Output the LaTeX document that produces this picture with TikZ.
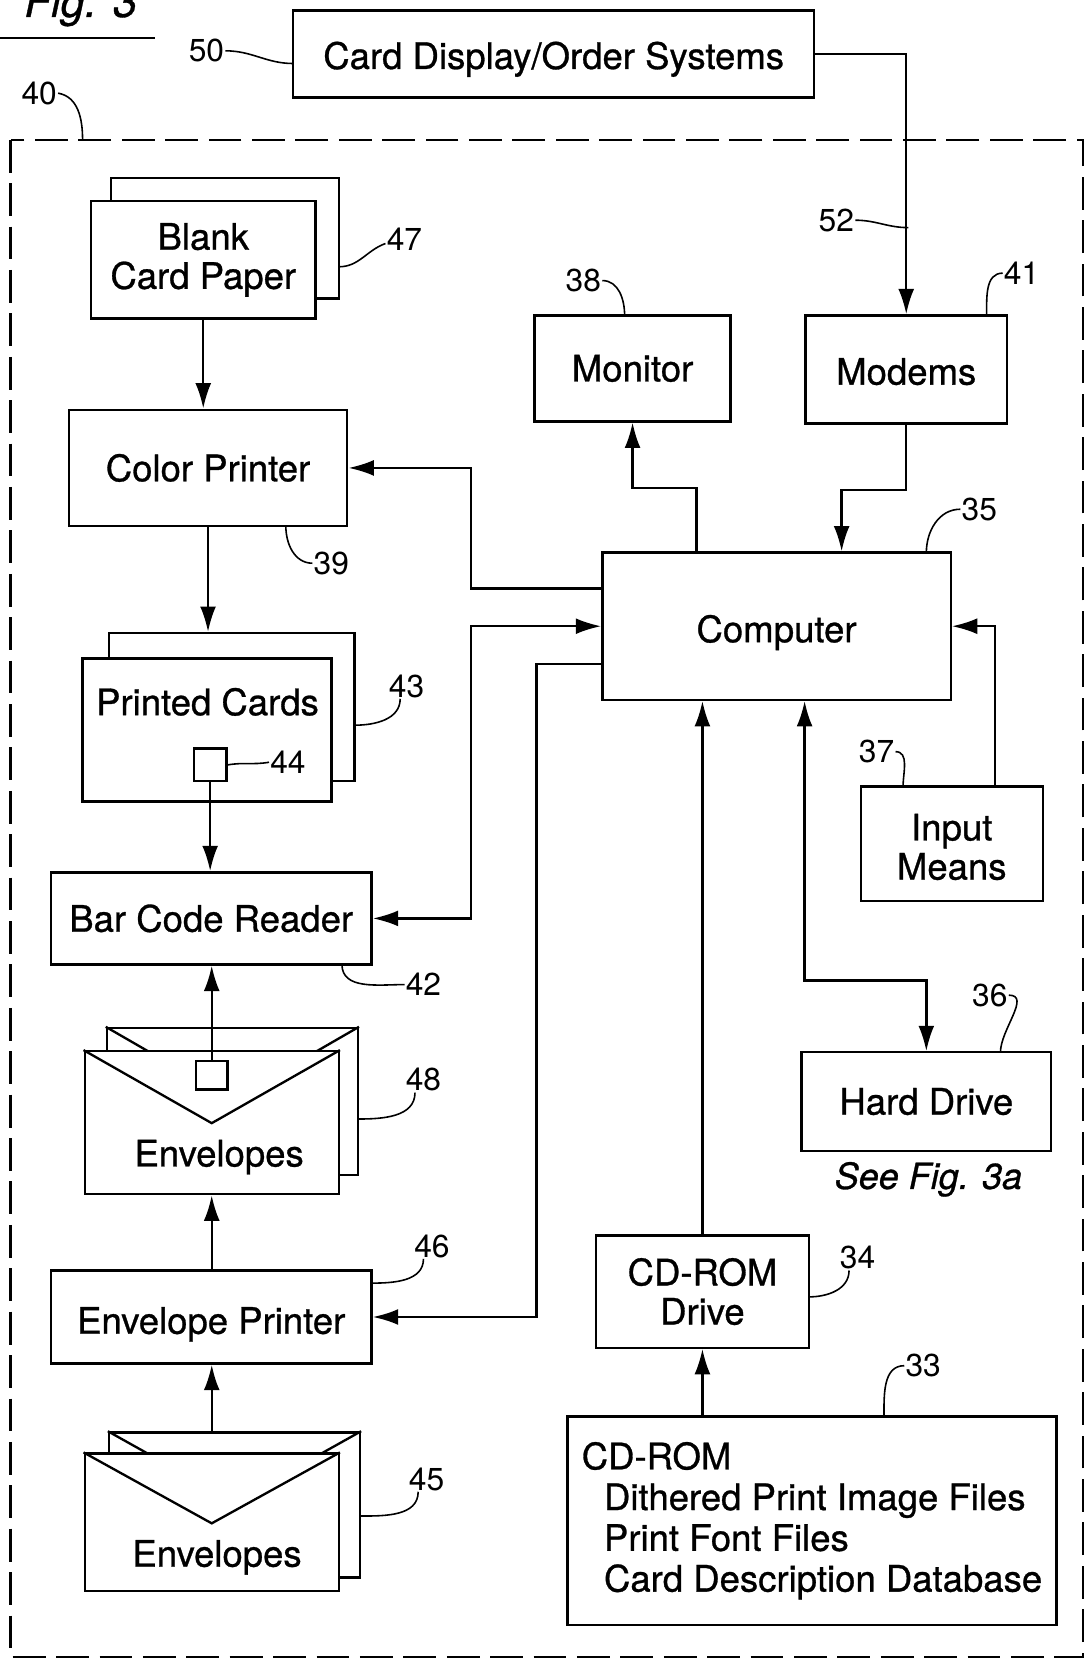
\documentclass[tikz,border=0pt]{standalone}
\usepackage{fontspec}
\setmainfont{TeX Gyre Heros}[FakeBold=0.8]
\newfontfamily\numfont{TeX Gyre Heros}
\usetikzlibrary{arrows.meta}
\newcommand\mainfs{\fontsize{34.5}{37}\selectfont}
\newcommand\numfs{\numfont\fontsize{30}{32}\selectfont}
\newcommand\itfs{\fontsize{34}{36}\selectfont\itshape}
\newcommand\lowr[2]{\raisebox{-#1pt}[\height][\depth]{#2}}
\newcommand\bx[6]{\node[box,minimum width={(#4)-(#2)},minimum height={(#5)-(#3)}] (#1) at ({((#2)+(#4))/2},{((#3)+(#5))/2}) {#6};}
\begin{document}
\begin{tikzpicture}[x=1pt,y=-1pt,
  box/.style={draw,line width=2.2pt,fill=white,inner sep=0pt,align=center,font=\mainfs},
  arr/.style={line width=2.2pt,-{Latex[length=24pt,width=15pt]}},
  arrtwo/.style={line width=2.2pt,{Latex[length=24pt,width=15pt]}-{Latex[length=24pt,width=15pt]}},
  vline/.style={line width=2.2pt},
  lead/.style={line width=1.5pt},
  num/.style={font=\numfs,inner sep=1pt},
  txt/.style={font=\mainfs,inner sep=0pt}]
\useasboundingbox[fill=white] (0,0) rectangle (1025,1568);

% outer dashed frame (40)
\draw[line width=2.2pt,dash pattern=on 31pt off 10pt] (10,132) rectangle (1023,1565);
\coordinate (f40) at (78,132);

% title
\node[font=\fontsize{41}{43}\selectfont\itshape,anchor=base west,inner sep=0pt] (fig) at (23,16) {Fig. 3};
\draw[vline] (0,36) -- (146,36);

% Card display
\bx{cds}{277}{10}{769}{92}{\lowr{5}{Card Display/Order Systems}}

% Blank card paper stack
\bx{bcpb}{105}{168}{320}{282}{}
\bx{bcp}{86}{190}{298}{301}{Blank\\Card Paper}

\bx{colp}{65}{387}{328}{497}{Color Printer}

% Printed cards stack
\bx{pcb}{103}{598}{335}{738}{}
\bx{pc}{78}{622}{313}{757}{}
\node[txt] (pct) at (196,663) {Printed Cards};
\bx{sqa}{183}{707}{214}{738}{}

\bx{bcr}{48}{824}{351}{911}{Bar Code Reader}

% Envelopes 48
\bx{eab}{101}{971}{338}{1110}{}
\draw[vline] (eab.north west) -- ([yshift=-69pt]eab.north) -- (eab.north east);
\bx{ea}{80}{993}{320}{1128}{}
\draw[vline] (ea.north west) -- ([yshift=-69pt]ea.north) -- (ea.north east);
\bx{sqb}{185}{1002}{215}{1029}{}
\node[txt] (eat) at (207,1093) {Envelopes};

\bx{envp}{48}{1200}{351}{1288}{\lowr{7}{Envelope Printer}}

% Envelopes 45
\bx{ebb}{103}{1353}{340}{1490}{}
\draw[vline] (ebb.north west) -- ([yshift=-67pt]ebb.north) -- (ebb.north east);
\bx{eb}{80}{1373}{320}{1503}{}
\draw[vline] (eb.north west) -- ([yshift=-67pt]eb.north) -- (eb.north east);
\node[txt] (ebt) at (205,1471) {Envelopes};

% right column
\bx{mon}{505}{298}{690}{398}{Monitor}
\bx{mod}{761}{298}{951}{400}{\lowr{2}{Modems}}
\bx{comp}{569}{522}{898}{661}{\lowr{6}{Computer}}
\bx{inp}{813}{743}{985}{851}{\lowr{3}{Input}\\\lowr{3}{Means}}
\bx{hdd}{757}{994}{993}{1087}{Hard Drive}
\node[font=\itfs,inner sep=0pt] (see) at (877,1114) {See Fig. 3a};
\bx{cdd}{563}{1167}{764}{1273}{CD-ROM\\Drive}
\node[box,align=left,minimum width=462,minimum height=197,font=\fontsize{34.5}{38.5}\selectfont] (cdr) at (767,1436.5)
 {CD-ROM\\\hspace*{21pt}Dithered Print Image Files\\\hspace*{21pt}Print Font Files\\\hspace*{21pt}Card Description Database};

% connectors
\draw[arr] (cds.east) -| (mod.north);
\draw[arr] (bcp.south) -- (bcp.south |- colp.north);
\draw[arr] (colp.south) -- (colp.south |- pcb.north);
\draw[arr] (sqa.south) -- (sqa.south |- bcr.north);
\draw[arr] (sqb.north) -- (sqb.north |- bcr.south);
\draw[arr] (envp.north -| ea.south) -- (ea.south);
\draw[arr] (eb.north |- ebb.north) -- (eb.north |- envp.south);
\draw[arr] ([xshift=-75.5pt]comp.north) -- ++(0,-60) -| (mon.south);
\draw[arr] (mod.south) -- ++(0,62) -| ([xshift=61.5pt]comp.north);
\draw[arr] ([yshift=35.5pt]comp.west) -- ++(-123,0) |- (colp.east);
\draw[arrtwo] (comp.west) -- ++(-123,0) |- (bcr.east);
\draw[arr] ([yshift=-35.5pt]comp.west) -- ++(-61,0) |- (envp.east);
\draw[arr] (cdd.north) -- (cdd.north |- comp.south);
\draw[arrtwo] ([xshift=26.5pt]comp.south) -- ++(0,264) -| (hdd.north);
\draw[arr] ([xshift=41pt]inp.north) |- (comp.east);
\draw[arr] (cdr.north -| cdd.south) -- (cdd.south);

% reference numerals and leaders
\node[num] (l50) at (195,48) {50};
\draw[lead] (277,60) to[out=180,in=0] (l50.east);
\node[num] (l40) at (37,88) {40};
\draw[lead] (f40) to[out=90,in=-10] (l40.east);
\node[num] (l52) at (790,208) {52};
\draw[lead] (858,215) to[out=180,in=0] (l52.east);
\node[num] (l47) at (382,226) {47};
\draw[lead] (320,252) to[out=0,in=200] ([yshift=-4pt]l47.west);
\node[num] (l39) at (313,532) {39};
\draw[lead] (270,497) to[out=-90,in=180] (l39.west);
\node[num] (l43) at (384,648) {43};
\draw[lead] (335,685) to[out=0,in=-90] ([xshift=-6pt]l43.south);
\node[num] (l44) at (272,720) {44};
\draw[lead] (sqa.east) to[out=10,in=190] (l44.west);
\node[num] (l42) at (400,930) {42};
\draw[lead] (323,911) to[out=-90,in=180] (l42.west);
\node[num] (l48) at (400,1020) {48};
\draw[lead] (338,1057) to[out=0,in=-90] ([xshift=-8pt]l48.south);
\node[num] (l46) at (408,1177) {46};
\draw[lead] (351,1212) to[out=0,in=-90] ([xshift=-8pt]l46.south);
\node[num] (l45) at (403,1397) {45};
\draw[lead] (340,1432) to[out=0,in=-90] ([xshift=-8pt]l45.south);
\node[num] (l38) at (551,265) {38};
\draw[lead] (590,298) to[out=90,in=0] (l38.east);
\node[num] (l41) at (965,258) {41};
\draw[lead] (932,298) to[out=90,in=180] (l41.west);
\node[num] (l35) at (925,481) {35};
\draw[lead] (875,522) to[out=90,in=180] (l35.west);
\node[num] (l37) at (828,710) {37};
\draw[lead] (853,743) to[out=90,in=0] (l37.east);
\node[num] (l36) at (935,940) {36};
\draw[lead] (945,994) to[out=90,in=0] (l36.east);
\node[num] (l34) at (810,1188) {34};
\draw[lead] (764,1225) to[out=0,in=-90] ([xshift=-8pt]l34.south);
\node[num] (l33) at (872,1290) {33};
\draw[lead] (835,1338) to[out=90,in=180] (l33.west);
\end{tikzpicture}
\end{document}
